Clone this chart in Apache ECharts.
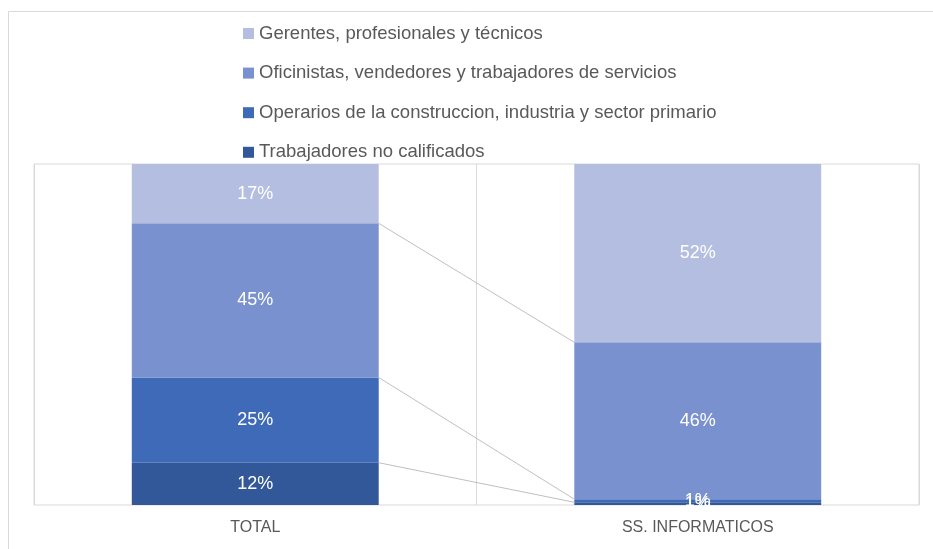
<!DOCTYPE html>
<html>
<head>
<meta charset="utf-8">
<script src="https://cdn.jsdelivr.net/npm/echarts@6/dist/echarts.min.js"></script>
<style>
  html, body { margin: 0; padding: 0; background: #fff; }
  #chart { width: 933px; height: 549px; }
</style>
</head>
<body>
<div id="chart"></div>
<script>
// categorias del eje x
const categories = ['TOTAL', 'SS. INFORMATICOS'];

// participacion (%) de cada grupo, de abajo hacia arriba
const noCalificados = [12.4, 0.8];
const operarios = [25.0, 0.9];
const oficinistas = [45.2, 46.0];
const gerentes = [17.4, 52.3];

const seriesNames = [
  'Trabajadores no calificados',
  'Operarios de la construccion, industria y sector primario',
  'Oficinistas, vendedores y trabajadores de servicios',
  'Gerentes, profesionales y técnicos'
];
const seriesValues = [noCalificados, operarios, oficinistas, gerentes];
const colors = ['#32589A', '#3E6AB8', '#7991CE', '#B4BEE0'];

const BAR_RATIO = 0.558;
const FONT = 'Liberation Sans';

// lineas de serie: limites acumulados entre segmentos
const boundaries = [];
let accA = 0, accB = 0;
for (let i = 0; i < seriesValues.length - 1; i++) {
  accA += seriesValues[i][0];
  accB += seriesValues[i][1];
  boundaries.push([0, accA, accB]);
}

const barSeries = seriesNames.map((name, i) => ({
  name: name,
  type: 'bar',
  stack: 'total',
  barWidth: (BAR_RATIO * 100) + '%',
  data: seriesValues[i],
  itemStyle: { color: colors[i] },
  label: {
    show: true,
    position: 'inside',
    color: '#fff',
    fontFamily: FONT,
    fontSize: 18,
    formatter: p => Math.round(p.value) + '%'
  },
  emphasis: { disabled: true }
}));

const chart = echarts.init(document.getElementById('chart'));
chart.setOption({
  animation: false,
  graphic: [{
    type: 'rect',
    shape: { x: 8.5, y: 11.5, width: 1000, height: 1000 },
    style: { fill: 'none', stroke: '#d9d9d9', lineWidth: 1 },
    silent: true
  }],
  legend: {
    data: seriesNames.slice().reverse(),
    orient: 'vertical',
    left: 238,
    top: 19,
    itemWidth: 11,
    itemHeight: 11,
    itemGap: 20.6,
    icon: 'rect',
    textStyle: { color: '#595959', fontFamily: FONT, fontSize: 18.5 }
  },
  grid: {
    left: 34, right: 14, top: 164, bottom: 44,
    show: true, borderColor: '#d9d9d9', borderWidth: 1
  },
  xAxis: {
    type: 'category',
    data: categories,
    axisLine: { show: false },
    axisTick: { show: false },
    splitLine: { show: true, lineStyle: { color: '#d9d9d9' } },
    axisLabel: { color: '#595959', fontFamily: FONT, fontSize: 16, margin: 15 }
  },
  yAxis: {
    type: 'value',
    min: 0,
    max: 100,
    show: false
  },
  series: barSeries.concat([{
    type: 'custom',
    name: 'lineas',
    data: boundaries,
    encode: { x: 0, y: 1 },
    silent: true,
    z: 3,
    renderItem: (params, api) => {
      const p1 = api.coord([0, api.value(1)]);
      const p2 = api.coord([1, api.value(2)]);
      const half = api.size([1, 0])[0] * BAR_RATIO / 2;
      return {
        type: 'line',
        shape: { x1: p1[0] + half, y1: p1[1], x2: p2[0] - half, y2: p2[1] },
        style: { stroke: '#bfbfbf', lineWidth: 1 }
      };
    }
  }])
});
</script>
</body>
</html>
